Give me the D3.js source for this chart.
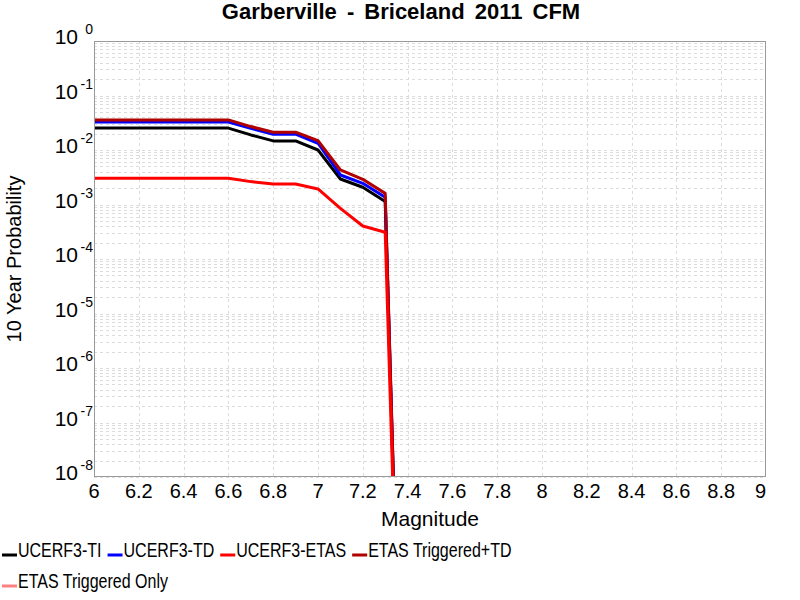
<!DOCTYPE html>
<html>
<head>
<meta charset="utf-8">
<script src="https://cdn.jsdelivr.net/npm/d3@7"></script>
<style>
  body { margin: 0; background: #fff; }
  text { font-family: "Liberation Sans", Arial, sans-serif; fill: #000; }
</style>
</head>
<body>
<svg id="chart" width="800" height="600"></svg>
<script>
// magnitude bins (x) and 10 year probabilities for each model
var magnitudes = [6.0, 6.1, 6.2, 6.3, 6.4, 6.5, 6.6, 6.7, 6.8, 6.9, 7.0, 7.1, 7.2, 7.3, 7.4]
var ucerf3TI = [0.0252, 0.0252, 0.0252, 0.0252, 0.0252, 0.0252, 0.0252, 0.0189, 0.0147, 0.0147, 0.0100, 0.00294, 0.00207, 0.00113, 1e-17]
var ucerf3TD = [0.0327, 0.0327, 0.0327, 0.0327, 0.0327, 0.0327, 0.0327, 0.0250, 0.0195, 0.0195, 0.0133, 0.00348, 0.00245, 0.00136, 1e-17]
var ucerf3ETAS = [0.00303, 0.00303, 0.00303, 0.00303, 0.00303, 0.00303, 0.00303, 0.00263, 0.00238, 0.00238, 0.00193, 0.00085, 0.000403, 0.000309, 1e-17]
var etasTrigTD = [0.0357, 0.0357, 0.0357, 0.0357, 0.0357, 0.0357, 0.0357, 0.0269, 0.0212, 0.0212, 0.0149, 0.0043, 0.0029, 0.0016, 1e-17]
// triggered only curve sits below the plotted range
var etasTrigOnly = []

var seriesNames = ["UCERF3-TI", "UCERF3-TD", "UCERF3-ETAS", "ETAS Triggered+TD", "ETAS Triggered Only"]
var seriesColors = ["#000000", "#0000ff", "#ff0000", "#b00000", "#ff8080"]
var seriesValues = [ucerf3TI, ucerf3TD, ucerf3ETAS, etasTrigTD, etasTrigOnly]
// order the lines are painted in (last one on top)
var drawOrder = [0, 1, 3, 2, 4]

var xTicks = [6, 6.2, 6.4, 6.6, 6.8, 7, 7.2, 7.4, 7.6, 7.8, 8, 8.2, 8.4, 8.6, 8.8, 9]
var yExponents = [0, -1, -2, -3, -4, -5, -6, -7, -8]

var svg = d3.select("#chart")
// plot box (window.top is reserved, so prefix everything)
var plotL = 94, plotR = 766, plotT = 41, plotB = 477

var x = d3.scaleLinear().domain([6, 9]).range([plotL, plotR])
var y = d3.scaleLog().domain([1e-8, 1]).range([plotB, plotT])

// title
svg.append("text")
    .attr("x", 401).attr("y", 19)
    .attr("text-anchor", "middle")
    .style("font-size", "22px").style("font-weight", "bold")
    .style("word-spacing", "4px")
    .text("Garberville - Briceland 2011 CFM")

//////////////////////////////
//////////// GRID
//////////////////////////////
var grid = svg.append("g")
    .attr("stroke", "#dcdcdc")
    .attr("stroke-dasharray", "3,3")
    .attr("stroke-width", 1)

// horizontal: every decade plus 2..9 minors
var yGrid = []
yExponents.forEach(function(e) {
    if (e < 0) {
        for (var k = 1; k <= 9; k++) yGrid.push(k * Math.pow(10, e))
    }
})
grid.selectAll(".hg").data(yGrid).enter().append("line")
    .attr("x1", plotL).attr("x2", plotR)
    .attr("y1", d => Math.round(y(d)) + 0.5).attr("y2", d => Math.round(y(d)) + 0.5)

grid.selectAll(".vg").data(xTicks.slice(1, -1)).enter().append("line")
    .attr("y1", plotT).attr("y2", plotB)
    .attr("x1", d => Math.round(x(d)) + 0.5).attr("x2", d => Math.round(x(d)) + 0.5)

//////////////////////////////
//////////// LINES
//////////////////////////////
svg.append("clipPath").attr("id", "plotClip")
    .append("rect").attr("x", plotL).attr("y", plotT)
    .attr("width", plotR - plotL).attr("height", plotB - plotT)

var line = d3.line()
    .x(d => x(d[0]))
    .y(d => y(d[1]))

var lines = svg.append("g").attr("clip-path", "url(#plotClip)")
drawOrder.forEach(function(i) {
    var pts = seriesValues[i].map((v, j) => [magnitudes[j], v])
    if (pts.length === 0) return
    lines.append("path")
        .attr("d", line(pts))
        .attr("fill", "none")
        .attr("stroke", seriesColors[i])
        .attr("stroke-width", 3)
        .attr("stroke-linejoin", "round")
})

// frame
svg.append("rect")
    .attr("x", plotL + 0.5).attr("y", plotT + 0.5)
    .attr("width", plotR - plotL - 1).attr("height", plotB - plotT - 1)
    .attr("fill", "none").attr("stroke", "#9a9a9a").attr("stroke-width", 1)

//////////////////////////////
//////////// AXES
//////////////////////////////
svg.selectAll(".xt").data(xTicks).enter().append("text")
    .attr("x", (d, i) => i === xTicks.length - 1 ? plotR : x(d))
    .attr("y", 498)
    .attr("text-anchor", (d, i) => i === xTicks.length - 1 ? "end" : "middle")
    .style("font-size", "20px")
    .text(d => d3.format("")(d))

var yt = svg.selectAll(".yt").data(yExponents).enter().append("g")
yt.append("text")
    .attr("x", 78).attr("y", d => y(Math.pow(10, d)) + 3)
    .attr("text-anchor", "end")
    .style("font-size", "21px")
    .text("10")
yt.append("text")
    .attr("x", 93).attr("y", d => y(Math.pow(10, d)) - 7)
    .attr("text-anchor", "end")
    .style("font-size", "14px")
    .text(d => d)

svg.append("text")
    .attr("x", (plotL + plotR) / 2).attr("y", 526)
    .attr("text-anchor", "middle")
    .style("font-size", "21px")
    .text("Magnitude")

svg.append("text")
    .attr("transform", "translate(21," + (plotT + plotB) / 2 + ") rotate(-90)")
    .attr("text-anchor", "middle")
    .style("font-size", "20px")
    .text("10 Year Probability")

//////////////////////////////
//////////// LEGEND
//////////////////////////////
// legend text is drawn squeezed, like the narrow font of the original
var squeeze = 0.8
var legend = svg.append("g")
var lx = 2, ly = 557
seriesNames.forEach(function(name, i) {
    var item = legend.append("g")
    item.append("line")
        .attr("x1", 0).attr("x2", 15).attr("y1", -2).attr("y2", -2)
        .attr("stroke", seriesColors[i]).attr("stroke-width", 3)
    var t = item.append("text")
        .attr("transform", "translate(16,0) scale(" + squeeze + ",1)")
        .style("font-size", "20px")
        .text(name)
    var w = 16 + t.node().getComputedTextLength() * squeeze
    if (lx + w > 640) { lx = 2; ly += 31 }
    item.attr("transform", "translate(" + lx + "," + ly + ")")
    lx += w + 6
})
</script>
</body>
</html>
